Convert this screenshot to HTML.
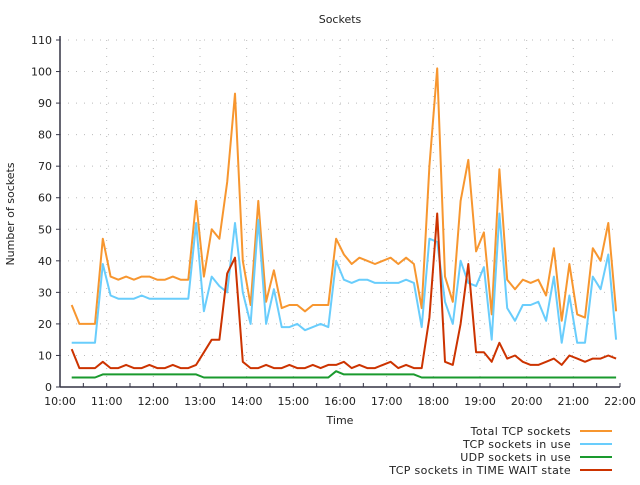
<!DOCTYPE html>
<html><head><meta charset="utf-8"><style>
body{margin:0;background:#fff;}
svg text{font-family:"DejaVu Sans","Liberation Sans",sans-serif;font-size:11px;fill:#222;}
</style></head><body>
<svg id="chart" width="640" height="480" xmlns="http://www.w3.org/2000/svg">
<text x="340" y="23" text-anchor="middle">Sockets</text>
<text transform="translate(14,214) rotate(-90)" text-anchor="middle">Number of sockets</text>
<text x="340" y="424" text-anchor="middle">Time</text>
<g id="grid"></g><g id="axes"></g><g id="series"></g><g id="legend"></g>
</svg>
<script>
const yTicks=[0,10,20,30,40,50,60,70,80,90,100,110];
const xTickLabels=["10:00","11:00","12:00","13:00","14:00","15:00","16:00","17:00","18:00","19:00","20:00","21:00","22:00"];
const startMinute=615; // 10:15
const stepMinutes=10;
const totalTcp=[26,20,20,20,47,35,34,35,34,35,35,34,34,35,34,34,59,35,50,47,65,93,40,26,59,27,37,25,26,26,24,26,26,26,47,42,39,41,40,39,40,41,39,41,39,25,70,101,35,27,59,72,43,49,23,69,34,31,34,33,34,29,44,21,39,23,22,44,40,52,24];
const tcpInUse=[14,14,14,14,39,29,28,28,28,29,28,28,28,28,28,28,52,24,35,32,30,52,30,20,53,20,31,19,19,20,18,19,20,19,40,34,33,34,34,33,33,33,33,34,33,19,47,46,27,20,40,33,32,38,15,55,25,21,26,26,27,21,35,14,29,14,14,35,31,42,15];
const udpInUse=[3,3,3,3,4,4,4,4,4,4,4,4,4,4,4,4,4,3,3,3,3,3,3,3,3,3,3,3,3,3,3,3,3,3,5,4,4,4,4,4,4,4,4,4,4,3,3,3,3,3,3,3,3,3,3,3,3,3,3,3,3,3,3,3,3,3,3,3,3,3,3];
const timeWait=[12,6,6,6,8,6,6,7,6,6,7,6,6,7,6,6,7,11,15,15,36,41,8,6,6,7,6,6,7,6,6,7,6,7,7,8,6,7,6,6,7,8,6,7,6,6,22,55,8,7,20,39,11,11,8,14,9,10,8,7,7,8,9,7,10,9,8,9,9,10,9];
const seriesNames=["Total TCP sockets","TCP sockets in use","UDP sockets in use","TCP sockets in TIME WAIT state"];
const seriesColors=["#f7962f","#69cdfc","#1a9a2e","#cc3300"];

const L=60,R=620,T=40,B=387,ymax=110;
const xm=m=>L+(m-600)/(720)*(R-L);
const y=v=>B-v/ymax*(B-T);
const NS="http://www.w3.org/2000/svg";
function mk(tag,parent,attrs){const e=document.createElementNS(NS,tag);for(const k in attrs)e.setAttribute(k,attrs[k]);parent.appendChild(e);return e;}
const grid=document.getElementById('grid'),axes=document.getElementById('axes'),ser=document.getElementById('series'),leg=document.getElementById('legend');
yTicks.forEach(v=>{
  if(v>0){const g=mk('line',grid,{x1:L,x2:R,y1:y(v),y2:y(v),stroke:'#bbb','stroke-dasharray':'1,7'});
  
  }
  const t=mk('text',axes,{x:L-8,y:y(v)+4,'text-anchor':'end'});t.textContent=v;
  
  
  mk('line',axes,{x1:L-4,x2:L,y1:y(v),y2:y(v),stroke:'#334'});
});
for(let m=600;m<=1320;m+=30){
  const x=xm(m);
  if(m>600&&m<1320&&m%60==0){const g=mk('line',grid,{x1:x,x2:x,y1:T,y2:B,stroke:'#bbb','stroke-dasharray':'1,7'});
  
  }
  mk('line',axes,{x1:x,x2:x,y1:B,y2:B-4,stroke:'#334'});
}
xTickLabels.forEach((s,i)=>{
  const t=mk('text',axes,{x:xm(600+60*i),y:B+18,'text-anchor':'middle'});t.textContent=s;
  
  
});
const ya=mk('line',axes,{x1:L,x2:L,y1:T-4,y2:B,stroke:'#334','stroke-width':1.5});


const xa=mk('line',axes,{x1:L,x2:R,y1:B,y2:B,stroke:'#334','stroke-width':1.5});


const all=[totalTcp,tcpInUse,udpInUse,timeWait];
const drawOrder=[2,0,1,3];
const names=['total-tcp-line','tcp-in-use-line','udp-in-use-line','time-wait-line'];
drawOrder.forEach(si=>{
  const d=all[si].map((v,i)=>(i?'L':'M')+xm(startMinute+i*stepMinutes).toFixed(1)+','+y(v).toFixed(1)).join('');
  const p=mk('path',ser,{d:d,fill:'none',stroke:seriesColors[si],'stroke-width':2,'stroke-linejoin':'round'});
  
  
});
seriesNames.forEach((n,i)=>{
  const yy=431+i*13;
  const t=mk('text',leg,{x:571,y:yy+4,'text-anchor':'end','letter-spacing':'0.35'});t.textContent=n;
  
  
  mk('line',leg,{x1:580,x2:612,y1:yy,y2:yy,stroke:seriesColors[i],'stroke-width':2});
});
</script>
</body></html>
